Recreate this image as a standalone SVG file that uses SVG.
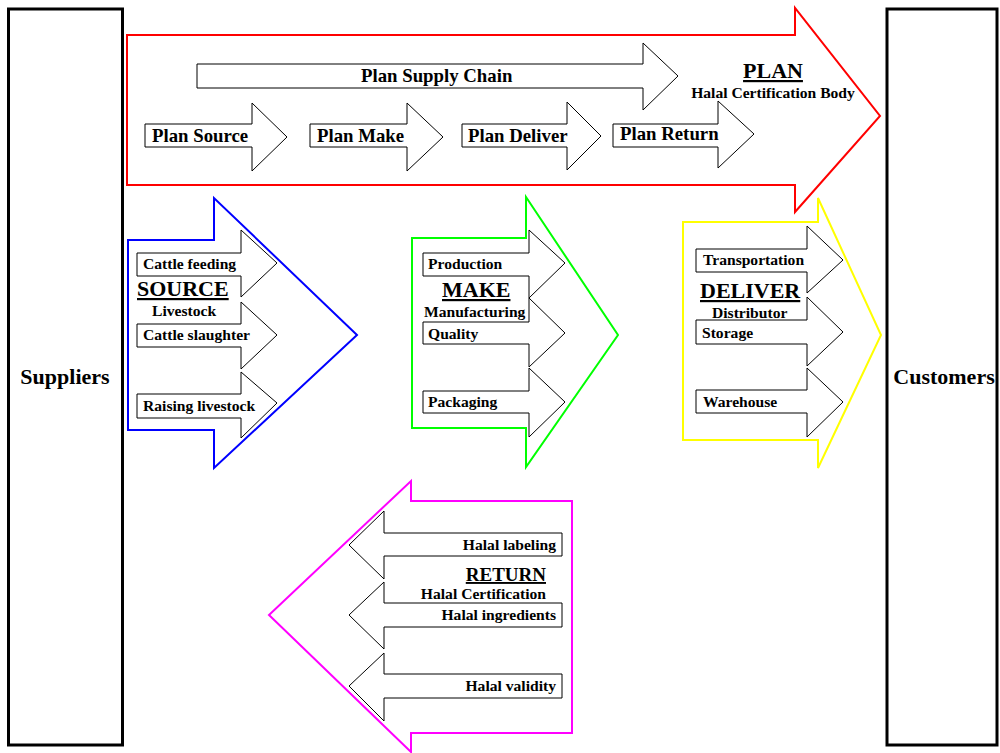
<svg xmlns="http://www.w3.org/2000/svg" width="1000" height="753" viewBox="0 0 1000 753">
<style>
text{font-family:"Liberation Serif","Times New Roman",serif;font-weight:bold;fill:#000}
.t18{font-size:18.8px}
.t15{font-size:15.6px}
.h22{font-size:22px;text-decoration:underline}
.big{fill:#fff;stroke-width:2;stroke-linejoin:miter}
.inner{fill:#fff;stroke:#000;stroke-width:1}
.box{fill:#fff;stroke:#000;stroke-width:3}
</style>
<rect width="1000" height="753" fill="#fff"/>
<g id="suppliers">
<rect class="box" x="8.5" y="9" width="114" height="736"/>
<text x="65" y="384" text-anchor="middle" style="font-size:22px">Suppliers</text>
</g>
<g id="customers">
<rect class="box" x="887" y="9" width="110" height="736"/>
<text x="944" y="384" text-anchor="middle" style="font-size:22px">Customers</text>
</g>
<g id="plan">
<polygon class="big" stroke="#ff0000" points="127,35 795,35 795,8 880,116 795,212 795,185 127,185"/>
<polygon class="inner" points="197,64 643,64 643,43 678,76 643,110 643,88 197,88"/>
<text class="t18" x="361" y="82">Plan Supply Chain</text>
<polygon class="inner" points="145,124 252,124 252,103 287,137 252,171 252,147 145,147"/>
<text class="t18" x="152" y="142">Plan Source</text>
<polygon class="inner" points="310,124 407,124 407,103 443,137 407,171 407,147 310,147"/>
<text class="t18" x="317" y="142">Plan Make</text>
<polygon class="inner" points="462,124 567,124 567,102 601,136 567,170 567,147 462,147"/>
<text class="t18" x="468" y="142">Plan Deliver</text>
<polygon class="inner" points="613,124 718,124 718,101 754,134 718,168 718,147 613,147"/>
<text class="t18" x="620" y="140">Plan Return</text>
<text class="h22" x="773" y="78" text-anchor="middle">PLAN</text>
<text class="t15" x="773" y="98" text-anchor="middle">Halal Certification Body</text>
</g>
<g id="source">
<polygon class="big" stroke="#0000ff" points="128,240 214,240 214,198 357,335 214,468 214,430 128,430"/>
<polygon class="inner" points="137,253 241,253 241,230 277,263 241,297 241,276 137,276"/>
<polygon class="inner" points="137,324 241,324 241,302 277,335 241,369 241,347 137,347"/>
<polygon class="inner" points="137,394 241,394 241,372 277,403 241,438 241,418 137,418"/>
<text class="t15" x="143" y="269">Cattle feeding</text>
<text class="h22" x="137" y="296">SOURCE</text>
<text class="t15" x="152" y="316">Livestock</text>
<text class="t15" x="143" y="340">Cattle slaughter</text>
<text class="t15" x="143" y="411">Raising livestock</text>
</g>
<g id="make">
<polygon class="big" stroke="#00ff00" points="412,238 526,238 526,197 618,335 526,467 526,428 412,428"/>
<polygon class="inner" points="423,253 529,253 529,230 565,263 529,298 529,276 423,276"/>
<polygon class="inner" points="423,322 529,322 529,298 565,333 529,367 529,344 423,344"/>
<polygon class="inner" points="423,391 529,391 529,368 565,402 529,437 529,413 423,413"/>
<text class="t15" x="428" y="269">Production</text>
<text class="h22" x="442" y="297">MAKE</text>
<text class="t15" x="424" y="317">Manufacturing</text>
<text class="t15" x="428" y="339">Quality</text>
<text class="t15" x="428" y="407">Packaging</text>
</g>
<g id="deliver">
<polygon class="big" stroke="#ffff00" points="683,222 818,222 818,198 881,335 818,468 818,440 683,440"/>
<polygon class="inner" points="696,249 807,249 807,226 843,260 807,293 807,272 696,272"/>
<polygon class="inner" points="696,320 807,320 807,297 843,332 807,366 807,344 696,344"/>
<polygon class="inner" points="696,390 807,390 807,368 843,402 807,437 807,413 696,413"/>
<text class="t15" x="703" y="265">Transportation</text>
<text class="h22" x="700" y="298">DELIVER</text>
<text class="t15" x="712" y="318">Distributor</text>
<text class="t15" x="702" y="338">Storage</text>
<text class="t15" x="703" y="407">Warehouse</text>
</g>
<g id="return">
<polygon class="big" stroke="#ff00ff" points="572,501 411,501 411,481 269,615 411,752 411,733 572,733"/>
<polygon class="inner" points="562,533 384,533 384,511 349,545 384,579 384,556 562,556"/>
<polygon class="inner" points="562,603 384,603 384,582 349,615 384,649 384,627 562,627"/>
<polygon class="inner" points="562,674 384,674 384,653 349,686 384,721 384,698 562,698"/>
<text class="t15" x="556" y="550" text-anchor="end">Halal labeling</text>
<text class="h22" x="546" y="581" text-anchor="end" style="font-size:19px">RETURN</text>
<text class="t15" x="546" y="599" text-anchor="end">Halal Certification</text>
<text class="t15" x="556" y="620" text-anchor="end">Halal ingredients</text>
<text class="t15" x="556" y="691" text-anchor="end">Halal validity</text>
</g>
</svg>
